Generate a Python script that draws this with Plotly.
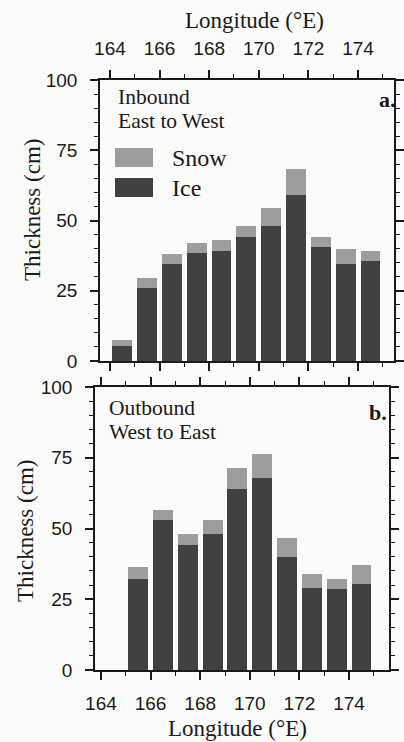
import plotly.graph_objects as go

# Longitude bin centres (°E)
lon_inbound = [164.5, 165.5, 166.5, 167.5, 168.5, 169.5, 170.5, 171.5, 172.5, 173.5, 174.5]
lon_outbound = [165.5, 166.5, 167.5, 168.5, 169.5, 170.5, 171.5, 172.5, 173.5, 174.5]

# Mean thickness (cm) per bin
ice_inbound = [5.5, 26, 34.5, 38.5, 39, 44, 48, 59, 40.5, 34.5, 35.5]
snow_inbound = [2, 3.5, 3.5, 3.5, 4, 4, 6.5, 9.5, 3.5, 5.5, 3.5]
ice_outbound = [32, 53, 44, 48, 64, 68, 40, 29, 28.5, 30.5]
snow_outbound = [4.5, 3.5, 4, 5, 7.5, 8.5, 6.5, 5, 3.5, 6.5]

x_ticks = [164, 166, 168, 170, 172, 174]
y_ticks = [0, 25, 50, 75, 100]

ICE = "#414141"
SNOW = "#9d9d9d"
INK = "#1a1a1a"
BG = "#fbfbf9"
SERIF = "Liberation Serif, Times New Roman, serif"
SANS = "Liberation Sans, Arial, sans-serif"

W, H = 404, 742


def px_x(p):
    return p / W


def px_y(p):
    return 1 - p / H


fig = go.Figure()

fig.add_trace(go.Bar(x=lon_inbound, y=ice_inbound, name="Ice", marker_color=ICE,
                     marker_line_width=0, width=0.8, xaxis="x", yaxis="y"))
fig.add_trace(go.Bar(x=lon_inbound, y=snow_inbound, name="Snow", marker_color=SNOW,
                     marker_line_width=0, width=0.8, xaxis="x", yaxis="y"))
fig.add_trace(go.Bar(x=lon_outbound, y=ice_outbound, name="Ice", marker_color=ICE,
                     marker_line_width=0, width=0.8, xaxis="x2", yaxis="y2"))
fig.add_trace(go.Bar(x=lon_outbound, y=snow_outbound, name="Snow", marker_color=SNOW,
                     marker_line_width=0, width=0.8, xaxis="x2", yaxis="y2"))

common_x = dict(
    tickmode="array", tickvals=x_ticks, ticktext=[str(v) for v in x_ticks],
    ticks="outside", ticklen=8, tickwidth=1.5, tickcolor=INK,
    minor=dict(dtick=1, tick0=164, ticks="outside", ticklen=4, tickwidth=1.3, tickcolor=INK),
    showline=True, linecolor=INK, linewidth=1.5, mirror="allticks",
    showgrid=False, zeroline=False, automargin=False,
    tickfont=dict(family=SANS, size=19, color=INK),
)
common_y = dict(
    range=[0, 100], tickmode="array", tickvals=y_ticks,
    ticks="outside", ticklen=8, tickwidth=1.5, tickcolor=INK,
    minor=dict(dtick=5, ticks="outside", ticklen=4, tickwidth=1.3, tickcolor=INK),
    showline=True, linecolor=INK, linewidth=1.5, mirror="allticks",
    showgrid=False, zeroline=False, automargin=False,
    tickfont=dict(family=SANS, size=19, color=INK), ticklabelstandoff=9,
)

fig.update_layout(
    width=W, height=H,
    margin=dict(l=0, r=0, t=0, b=0),
    paper_bgcolor=BG, plot_bgcolor=BG,
    barmode="stack", bargap=0,
    showlegend=False,
    xaxis=dict(common_x, domain=[px_x(100), px_x(394)], range=[163.6, 175.45],
               anchor="y", side="top", ticklabelstandoff=8),
    yaxis=dict(common_y, domain=[px_y(361), px_y(80)], anchor="x"),
    xaxis2=dict(common_x, domain=[px_x(95), px_x(389)], range=[163.76, 175.61],
                anchor="y2", side="bottom", ticklabelstandoff=7),
    yaxis2=dict(common_y, domain=[px_y(670), px_y(387)], anchor="x2"),
)

annotations = [
    dict(text="Longitude (°E)", x=px_x(254), y=px_y(20)),
    dict(text="Longitude (°E)", x=px_x(237), y=px_y(728)),
    dict(text="Thickness (cm)", x=px_x(33), y=px_y(210), textangle=-90),
    dict(text="Thickness (cm)", x=px_x(25), y=px_y(531), textangle=-90),
]
annotations = [dict(a, xref="paper", yref="paper", showarrow=False,
                    font=dict(family=SERIF, size=23, color=INK),
                    xanchor="center", yanchor="middle") for a in annotations]

# Panel headings, one line each
for text, x, y in [
    ("Inbound", 116, 97),
    ("East to West", 116, 121),
    ("Outbound", 107, 408),
    ("West to East", 107, 432),
]:
    annotations.append(dict(text=text, x=px_x(x), y=px_y(y), xref="paper", yref="paper",
                            showarrow=False, xanchor="left", yanchor="middle",
                            font=dict(family=SERIF, size=21.5, color=INK)))
for text, x, y in [("<b>a.</b>", 398, 99), ("<b>b.</b>", 389, 412)]:
    annotations.append(dict(text=text, x=px_x(x), y=px_y(y), xref="paper", yref="paper",
                            showarrow=False, xanchor="right", yanchor="middle",
                            font=dict(family=SERIF, size=22, color=INK)))
for text, y in [("Snow", 158), ("Ice", 188)]:
    annotations.append(dict(text=text, x=px_x(170), y=px_y(y), xref="paper", yref="paper",
                            showarrow=False, xanchor="left", yanchor="middle",
                            font=dict(family=SERIF, size=24, color=INK)))
fig.update_layout(annotations=annotations)

# Legend swatches
for color, y0, y1 in [(SNOW, 148, 167), (ICE, 178, 197)]:
    fig.add_shape(type="rect", xref="paper", yref="paper",
                  x0=px_x(115), x1=px_x(153), y0=px_y(y1), y1=px_y(y0),
                  fillcolor=color, line_width=0)

fig.write_html("out.html")
